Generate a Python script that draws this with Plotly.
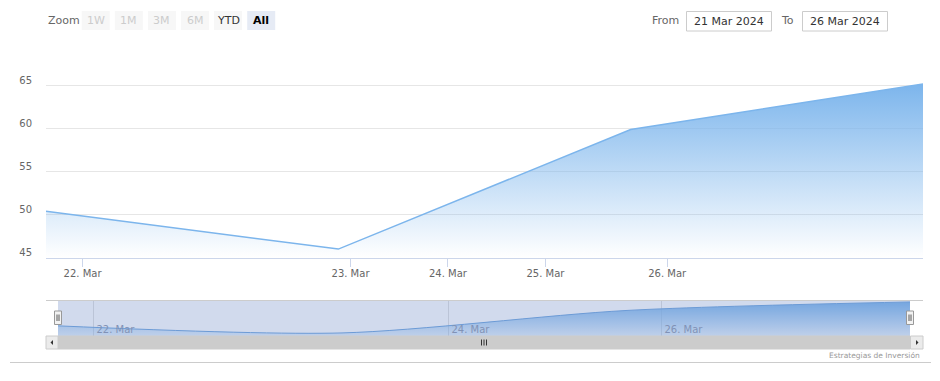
import numpy as np
import pandas as pd
import plotly.graph_objects as go

# ---------------- data ----------------
point_dates = ["2024-03-21 21:00", "2024-03-22 21:00", "2024-03-25 21:00", "2024-03-26 21:00"]
values = [50.4, 46.0, 59.9, 65.2]

tick_dates = ["2024-03-22", "2024-03-23", "2024-03-24", "2024-03-25", "2024-03-26"]
tick_labels = ["22. Mar", "23. Mar", "24. Mar", "25. Mar", "26. Mar"]
nav_tick_dates = ["2024-03-22", "2024-03-24", "2024-03-26"]
nav_tick_labels = ["22. Mar", "24. Mar", "26. Mar"]

y_ticks = [45, 50, 55, 60, 65, 70]
y_tick_text = ["45", "50", "55", "60", "65", ""]

zoom_buttons = ["1W", "1M", "3M", "6M", "YTD", "All"]
button_state = ["disabled", "disabled", "disabled", "disabled", "normal", "selected"]
from_text = "21 Mar 2024"
to_text = "26 Mar 2024"
credits = "Estrategias de Inversión"

# ---------------- ordinal axis (points equally spaced) ----------------
pd_dates = pd.to_datetime(point_dates)
secs = np.asarray((pd_dates - pd_dates[0]).total_seconds(), dtype=float)
idx = np.arange(len(values), dtype=float)


def ordinal(dates):
    d = pd.to_datetime(dates)
    s = np.asarray((d - pd_dates[0]).total_seconds(), dtype=float)
    return list(np.interp(s, secs, idx))


tick_pos = ordinal(tick_dates)
nav_tick_pos = ordinal(nav_tick_dates)

W, H = 940, 381
FONT = "DejaVu Sans"
BLUE = "#7cb5ec"


def px(x):
    return x / W


def py(y):
    return 1 - y / H


fig = go.Figure()

# main area series
fig.add_trace(go.Scatter(
    x=idx, y=values, mode="lines", fill="tozeroy",
    line=dict(color=BLUE, width=1.5),
    fillgradient=dict(type="vertical", start=45, stop=max(values),
                      colorscale=[[0, "rgba(124,181,236,0)"], [1, "rgba(124,181,236,1)"]]),
    hoverinfo="skip", showlegend=False, xaxis="x", yaxis="y",
))

# navigator series
fig.add_trace(go.Scatter(
    x=idx, y=values, mode="lines", fill="tozeroy",
    line=dict(color="#6fa5de", width=1, shape="spline", smoothing=0.8),
    fillgradient=dict(type="vertical", start=44.1, stop=max(values),
                      colorscale=[[0, "rgba(124,181,236,0.2)"], [1, "rgba(124,181,236,1)"]]),
    hoverinfo="skip", showlegend=False, xaxis="x2", yaxis="y2",
))

shapes = []
annotations = []

# navigator mask
shapes.append(dict(type="rect", xref="x2", yref="y2 domain", x0=0, x1=3, y0=0, y1=1,
                   fillcolor="rgba(102,133,194,0.3)", line=dict(width=0), layer="above"))
# navigator outline top
shapes.append(dict(type="line", xref="paper", yref="paper", x0=px(46), x1=px(923), y0=py(300.5), y1=py(300.5),
                   line=dict(color="#cccccc", width=1), layer="above"))

# scrollbar track, thumb, buttons
shapes.append(dict(type="rect", xref="paper", yref="paper", x0=px(46), x1=px(923), y0=py(349), y1=py(336),
                   fillcolor="#f2f2f2", line=dict(width=0), layer="above"))
shapes.append(dict(type="rect", xref="paper", yref="paper", x0=px(58), x1=px(910), y0=py(349), y1=py(336),
                   fillcolor="#cccccc", line=dict(color="#cccccc", width=1), layer="above"))
for bx0, bx1 in [(46, 58), (910.5, 923)]:
    shapes.append(dict(type="rect", xref="paper", yref="paper", x0=px(bx0), x1=px(bx1), y0=py(349), y1=py(336),
                       fillcolor="#ebebeb", line=dict(color="#cccccc", width=1), layer="above"))
# arrows
shapes.append(dict(type="path", xref="paper", yref="paper",
                   path=f"M {px(50.5)} {py(342.5)} L {px(53)} {py(340)} L {px(53)} {py(345)} Z",
                   fillcolor="#333333", line=dict(width=0), layer="above"))
shapes.append(dict(type="path", xref="paper", yref="paper",
                   path=f"M {px(918.5)} {py(342.5)} L {px(916)} {py(340)} L {px(916)} {py(345)} Z",
                   fillcolor="#333333", line=dict(width=0), layer="above"))
# rifles
for rx in [481.5, 484, 486.5]:
    shapes.append(dict(type="line", xref="paper", yref="paper", x0=px(rx), x1=px(rx), y0=py(339.5), y1=py(345.5),
                       line=dict(color="#333333", width=1), layer="above"))

# navigator handles
for hx in [58, 910]:
    shapes.append(dict(type="rect", xref="paper", yref="paper", x0=px(hx - 3.5), x1=px(hx + 3.5),
                       y0=py(324.5), y1=py(311), fillcolor="#f2f2f2",
                       line=dict(color="#999999", width=1), layer="above"))
    for lx in [hx - 1, hx + 1]:
        shapes.append(dict(type="line", xref="paper", yref="paper", x0=px(lx), x1=px(lx),
                           y0=py(314.5), y1=py(321), line=dict(color="#333333", width=0.8), layer="above"))

# bottom container line
shapes.append(dict(type="line", xref="paper", yref="paper", x0=px(10), x1=px(931), y0=py(362.5), y1=py(362.5),
                   line=dict(color="#cccccc", width=1)))

# range selector
annotations.append(dict(text="Zoom", xref="paper", yref="paper", x=px(46), y=py(20.5), xanchor="left",
                        yanchor="middle", showarrow=False, font=dict(family=FONT, size=11, color="#666666")))
for i, (lab, st) in enumerate(zip(zoom_buttons, button_state)):
    x0 = 81.7 + 33.1 * i
    fill = "#e6ebf5" if st == "selected" else "#f7f7f7"
    shapes.append(dict(type="rect", xref="paper", yref="paper", x0=px(x0), x1=px(x0 + 28),
                       y0=py(30), y1=py(11), fillcolor=fill, line=dict(width=0)))
    color = {"disabled": "#cccccc", "normal": "#333333", "selected": "#000000"}[st]
    txt = f"<b>{lab}</b>" if st == "selected" else lab
    annotations.append(dict(text=txt, xref="paper", yref="paper", x=px(x0 + 14), y=py(20.5),
                            xanchor="center", yanchor="middle", showarrow=False,
                            font=dict(family=FONT, size=11, color=color)))

# From / To inputs
annotations.append(dict(text="From", xref="paper", yref="paper", x=px(680.5), y=py(20.5), xanchor="right",
                        yanchor="middle", showarrow=False, font=dict(family=FONT, size=11, color="#666666")))
annotations.append(dict(text="To", xref="paper", yref="paper", x=px(795.5), y=py(20.5), xanchor="right",
                        yanchor="middle", showarrow=False, font=dict(family=FONT, size=11, color="#666666")))
for bx0, bx1, t in [(686.5, 771.5, from_text), (802.5, 887.5, to_text)]:
    shapes.append(dict(type="rect", xref="paper", yref="paper", x0=px(bx0), x1=px(bx1),
                       y0=py(31), y1=py(11.5), fillcolor="white", line=dict(color="#cccccc", width=1)))
    annotations.append(dict(text=t, xref="paper", yref="paper", x=px((bx0 + bx1) / 2), y=py(21),
                            xanchor="center", yanchor="middle", showarrow=False,
                            font=dict(family=FONT, size=11, color="#333333")))

# credits
annotations.append(dict(text=credits, xref="paper", yref="paper", x=px(922), y=py(355.5), xanchor="right",
                        yanchor="middle", showarrow=False, font=dict(family=FONT, size=7.5, color="#999999")))

fig.update_layout(
    width=W, height=H, margin=dict(l=0, r=0, t=0, b=0), autosize=False,
    paper_bgcolor="white", plot_bgcolor="white",
    showlegend=False, hovermode=False,
    font=dict(family=FONT, size=10, color="#666666"),
    xaxis=dict(domain=[px(46), px(923)], range=[0, len(values) - 1], anchor="y",
               tickmode="array", tickvals=tick_pos, ticktext=tick_labels,
               ticks="outside", ticklen=8, tickcolor="#ccd6eb", tickwidth=1,
               showline=True, linecolor="#ccd6eb", linewidth=1,
               showgrid=False, zeroline=False, fixedrange=True,
               ticklabelstandoff=-2,
               tickfont=dict(family=FONT, size=10, color="#666666")),
    yaxis=dict(domain=[py(257.7), py(42.7)], range=[45, 70], anchor="x",
               tickmode="array", tickvals=y_ticks, ticktext=y_tick_text,
               showgrid=True, gridcolor="#e6e6e6", gridwidth=1,
               zeroline=False, showline=False, ticks="",
               ticklabelshift=-5, ticklabelstandoff=13, fixedrange=True,
               tickfont=dict(family=FONT, size=10, color="#666666")),
    xaxis2=dict(domain=[px(58), px(910)], range=[0, len(values) - 1], anchor="y2",
                tickmode="array", tickvals=nav_tick_pos, ticktext=nav_tick_labels,
                ticklabelposition="inside right", ticks="",
                ticklabelstandoff=-5, ticklabelshift=3,
                showgrid=True, gridcolor="#e0e0e0", gridwidth=1,
                showline=False, zeroline=False, fixedrange=True,
                tickfont=dict(family=FONT, size=10, color="#8d99b0")),
    yaxis2=dict(domain=[py(336), py(300)], range=[44.1, 66.4], anchor="x2",
                showticklabels=False, showgrid=False, zeroline=False, showline=False,
                ticks="", fixedrange=True),
    shapes=shapes, annotations=annotations,
)

fig.write_html("out.html", config={"displayModeBar": False, "staticPlot": True},
               post_script="document.body.style.margin='0px';")
